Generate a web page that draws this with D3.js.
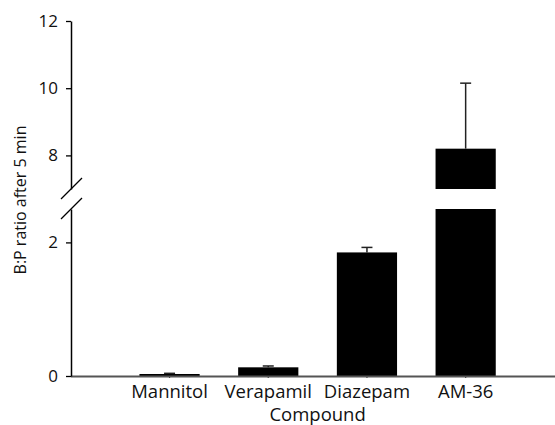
<!DOCTYPE html>
<html>
<head>
<meta charset="utf-8">
<script src="https://cdn.jsdelivr.net/npm/d3@7"></script>
<style>
html,body{margin:0;padding:0;background:#fff;}
svg{display:block;font-family:"Open Sans",sans-serif;}
</style>
</head>
<body>
<svg id="chart" width="555" height="425"></svg>
<script>
const categories = ["Mannitol", "Verapamil", "Diazepam", "AM-36"];
const means = [0.03, 0.13, 1.85, 8.2];
const errors = [0.01, 0.02, 0.075, 1.95];
const lowTicks = [0, 2];
const highTicks = [8, 10, 12];
const lowDomain = [0, 2.5];
const highDomain = [7, 12];

const svg = d3.select("#chart");
const axisX = 71, baseY = 376;

const x = d3.scaleBand().domain(categories).range([120.2, 515]).paddingInner(0.39).paddingOuter(0.195);
const yLow = d3.scaleLinear().domain(lowDomain).range([baseY, 209]);
const yHigh = d3.scaleLinear().domain(highDomain).range([189, 21]);

const data = categories.map((c, i) => ({c, v: means[i], e: errors[i]}));

// bars
const g = svg.append("g");
data.forEach(d => {
  const x0 = x(d.c), w = x.bandwidth();
  if (d.v <= lowDomain[1]) {
    g.append("rect").attr("x", x0).attr("width", w)
      .attr("y", yLow(d.v)).attr("height", baseY - yLow(d.v)).attr("fill", "#000");
  } else {
    g.append("rect").attr("x", x0).attr("width", w)
      .attr("y", yLow(lowDomain[1])).attr("height", baseY - yLow(lowDomain[1])).attr("fill", "#000");
    g.append("rect").attr("x", x0).attr("width", w)
      .attr("y", yHigh(d.v)).attr("height", yHigh(highDomain[0]) - yHigh(d.v)).attr("fill", "#000");
  }
  const yv = d.v <= lowDomain[1] ? yLow : yHigh;
  const ye = (d.v + d.e) <= lowDomain[1] ? yLow : yHigh;
  const cx = x0 + w / 2;
  g.append("line").attr("x1", cx).attr("x2", cx).attr("y1", yv(d.v)).attr("y2", ye(d.v + d.e))
    .attr("stroke", "#222").attr("stroke-width", 1.5);
  g.append("line").attr("x1", cx - 5.5).attr("x2", cx + 5.5).attr("y1", ye(d.v + d.e)).attr("y2", ye(d.v + d.e))
    .attr("stroke", "#222").attr("stroke-width", 1.5);
});

// x axis
const xAxis = svg.append("g").attr("transform", `translate(0,${baseY})`)
  .call(d3.axisBottom(x).tickSize(2).tickPadding(5));
xAxis.select(".domain").remove();
xAxis.selectAll(".tick line").attr("stroke", "#333").attr("stroke-width", 1.2);
xAxis.selectAll(".tick text").attr("font-size", 18.5).attr("fill", "#111")
  .attr("font-family", "Open Sans, sans-serif").attr("dy", "0.82em");
svg.append("line").attr("x1", axisX).attr("x2", 555).attr("y1", baseY + 0.5).attr("y2", baseY + 0.5)
  .attr("stroke", "#555").attr("stroke-width", 2);

// y axes (two segments)
function styleY(sel) {
  sel.selectAll(".tick line").attr("stroke", "#000").attr("stroke-width", 1.3);
  sel.selectAll(".tick text").attr("font-size", 17).attr("fill", "#111")
    .attr("font-family", "Open Sans, sans-serif");
  sel.select(".domain").attr("stroke", "#000").attr("stroke-width", 1.5);
}
const yl = svg.append("g").attr("transform", `translate(${axisX},0)`)
  .call(d3.axisLeft(yLow).tickValues(lowTicks).tickSizeInner(5).tickSizeOuter(0).tickPadding(8).tickFormat(d3.format("d")));
styleY(yl);
const yh = svg.append("g").attr("transform", `translate(${axisX},0)`)
  .call(d3.axisLeft(yHigh).tickValues(highTicks).tickSizeInner(5).tickSizeOuter(0).tickPadding(8).tickFormat(d3.format("d")));
styleY(yh);

// break marks
[yHigh(highDomain[0]), yLow(lowDomain[1])].forEach(yy => {
  svg.append("line").attr("x1", axisX - 10).attr("x2", axisX + 11)
    .attr("y1", yy + 10).attr("y2", yy - 11)
    .attr("stroke", "#000").attr("stroke-width", 1.2);
});

// titles
svg.append("text").attr("x", (x.range()[0] + x.range()[1]) / 2 + 0).attr("y", 421)
  .attr("text-anchor", "middle").attr("font-size", 18.5).attr("fill", "#111").text("Compound");
svg.append("text").attr("transform", "translate(26,200) rotate(-90)")
  .attr("text-anchor", "middle").attr("font-size", 16).attr("fill", "#111").text("B:P ratio after 5 min");
</script>
</body>
</html>
